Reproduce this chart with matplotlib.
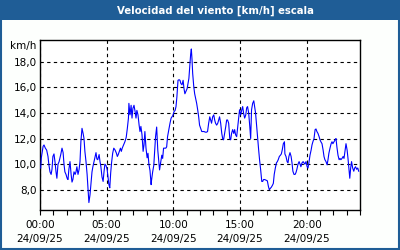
import matplotlib
matplotlib.use("Agg")
import matplotlib.pyplot as plt
from matplotlib.patches import Rectangle
from matplotlib.ticker import FixedLocator, MultipleLocator

# minutes after 00:00 on 24/09/25, wind speed in km/h
minutes = [
    3, 6, 14, 18, 24, 30, 36, 40, 45, 50, 54, 58, 63, 68, 72, 76, 81, 86, 90, 94,
    99, 104, 108, 112, 117, 122, 126, 130, 135, 140, 144, 148, 153, 158, 162, 166,
    171, 176, 180, 184, 189, 194, 198, 202, 207, 212, 216, 220, 225, 230, 234, 238,
    243, 248, 252, 256,
    260, 266, 270, 274, 279, 284, 288, 292, 297, 302, 306, 310, 314, 318, 322, 327,
    332, 338, 344, 348, 352, 357, 362, 366, 370, 376, 382, 388, 393, 398, 400, 405,
    410, 414, 418, 423, 428, 432, 436, 441, 446, 450, 454, 459, 464, 468, 472, 477,
    482, 486, 490, 495, 500, 502, 507, 512, 516,
    520, 525, 530, 534, 538, 543, 548, 552, 556, 561, 566, 570, 574, 579, 585, 590,
    594, 598, 603, 608, 612, 616, 621, 626, 630, 634, 639, 644, 648, 652, 657, 662,
    666, 670, 675, 678, 681, 684, 687, 692, 696, 700, 705, 710, 714, 718, 723, 728,
    732, 738, 744, 750, 754, 759, 764,
    768, 772, 777, 782, 786, 790, 795, 800, 804, 808, 813, 818, 822, 826, 831, 836,
    840, 844, 849, 854, 858, 862, 867, 872, 876, 880, 885, 890, 894, 898, 903, 908,
    912, 916, 921, 926, 930, 934, 939, 944, 948, 952, 957, 962, 966, 970, 975, 980,
    984, 988, 993, 998, 1002, 1006, 1011,
    1017, 1023, 1028, 1032, 1036, 1041, 1046, 1050, 1054, 1059, 1064, 1068, 1072,
    1077, 1082, 1086, 1090, 1095, 1100, 1102, 1107, 1112, 1116, 1120, 1125, 1130,
    1134, 1138, 1143, 1148, 1152, 1156, 1161, 1166, 1170, 1174, 1179, 1184, 1188,
    1192, 1197, 1202, 1206, 1210, 1215, 1220, 1224, 1228, 1233,
    1238, 1242, 1246, 1251, 1256, 1260, 1264, 1269, 1274, 1278, 1282, 1287, 1292,
    1296, 1300, 1305, 1310, 1314, 1318, 1323, 1328, 1332, 1336, 1341, 1346, 1350,
    1354, 1359, 1364, 1368, 1372, 1377, 1382, 1386, 1390, 1394, 1398, 1402, 1407,
    1412, 1416, 1420, 1425, 1430, 1434,
]
speed = [
    9.7, 10.5, 11.4, 11.5, 11.25, 11.1, 10.6, 9.95, 9.4, 9.2, 9.6, 10.6, 10.8, 10.1,
    9.4, 8.9, 10.0, 10.2, 10.5, 10.8, 11.25, 10.9, 10.0, 9.4, 9.2, 8.9, 8.8, 9.6,
    10.2, 9.2, 8.6, 8.8, 9.4, 9.2, 9.4, 9.8, 9.2, 9.6, 10.2, 11.76, 12.8, 12.4, 12.0,
    11.0, 10.2, 9.2, 8.1, 7.0, 7.6, 8.6, 9.4, 9.8, 10.2, 10.6, 10.9, 10.4,
    10.35, 10.75, 10.2, 9.8, 9.0, 8.65, 9.4, 10.0, 9.9, 9.6, 9.0, 8.4, 8.15, 9.3,
    10.1, 10.85, 11.25, 11.1, 10.85, 10.6, 10.75, 11.0, 11.25, 11.0, 11.25, 11.5,
    11.75, 12.1, 12.8, 13.6, 14.75, 13.85, 14.6, 13.6, 14.35, 14.6, 14.1, 13.6, 14.2,
    13.85, 13.05, 12.55, 12.95, 12.3, 11.0, 11.5, 12.55, 11.25, 10.5, 10.85, 10.0,
    9.5, 8.4, 8.75, 9.4, 9.9, 11.0,
    12.15, 12.9, 11.1, 10.35, 9.55, 10.1, 10.7, 10.45, 11.25, 11.25, 11.25, 11.35,
    12.15, 12.65, 13.2, 13.6, 13.7, 13.8, 14.1, 14.2, 14.5, 15.25, 16.55, 16.6, 16.55,
    16.3, 16.2, 16.55, 15.9, 15.5, 15.7, 15.9, 16.3, 16.7, 17.85, 18.6, 19.0, 18.2,
    17.1, 16.05, 15.5, 15.15, 14.75, 14.2, 13.7, 13.05, 12.8, 12.55, 12.55, 12.55,
    12.5, 12.5, 12.55, 13.2, 13.7,
    13.45, 13.2, 13.7, 13.85, 13.45, 13.2, 13.05, 13.2, 13.45, 13.7, 13.2, 12.4, 12.0,
    11.9, 12.4, 12.95, 13.45, 13.45, 13.2, 12.0, 11.9, 12.4, 12.7, 12.4, 12.7, 12.3,
    12.15, 12.95, 13.6, 14.25, 13.85, 14.25, 14.5, 14.0, 13.6, 13.85, 14.4, 14.5, 14.0,
    12.95, 12.0, 14.25, 14.75, 14.95, 14.5, 14.0, 12.95, 11.9, 11.1, 10.35, 9.55, 8.65,
    8.65, 8.8, 8.8,
    8.75, 8.7, 8.25, 8.0, 8.1, 8.2, 8.35, 8.5, 9.2, 9.7, 10.1, 10.2, 10.35, 10.6, 10.7,
    10.8, 11.1, 11.6, 11.75, 10.8, 10.6, 10.2, 10.1, 10.6, 10.9, 10.6, 10.1, 9.45, 9.2,
    9.2, 9.35, 9.6, 10.0, 10.2, 10.0, 9.8, 10.1, 10.2, 10.1, 10.0, 10.2, 9.8, 9.7, 10.1,
    10.7, 11.1, 11.5, 11.75, 12.0,
    12.7, 12.75, 12.55, 12.4, 12.15, 11.9, 11.75, 11.6, 11.1, 10.6, 10.35, 10.2, 9.95,
    10.35, 10.85, 11.25, 11.6, 11.75, 11.6, 11.75, 11.9, 12.0, 11.35, 10.7, 10.35,
    10.45, 10.35, 10.45, 10.6, 10.45, 10.95, 11.6, 11.1, 10.45, 9.7, 8.9, 9.7, 10.2,
    9.7, 9.45, 9.7, 9.8, 9.6, 9.7, 9.45,
]

x_ticks = [0, 300, 600, 900, 1200]
x_labels = ["00:00\n24/09/25", "05:00\n24/09/25", "10:00\n24/09/25",
            "15:00\n24/09/25", "20:00\n24/09/25"]
y_ticks = [8, 10, 12, 14, 16, 18]
y_labels = ["8,0", "10,0", "12,0", "14,0", "16,0", "18,0"]

title = "Velocidad del viento [km/h] escala"
unit = "km/h"

BLUE = "#1f5d96"

plt.rcParams["font.family"] = ["DejaVu Sans"]

fig = plt.figure(figsize=(4, 2.5), dpi=100, facecolor="#fdfffd")

# title bar and outer frame
fig.patches.append(Rectangle((0, 0.92), 1, 0.08, transform=fig.transFigure,
                             facecolor=BLUE, edgecolor="none", zorder=0))
fig.patches.append(Rectangle((0.0025, 0.004), 0.995, 0.992, transform=fig.transFigure,
                             facecolor="none", edgecolor=BLUE, linewidth=1.5, zorder=5))
fig.text(0.5375, 0.958, title, color="white", fontsize=7.3, fontweight="bold",
         ha="center", va="center")

ax = fig.add_axes([0.1, 0.159, 0.8, 0.681])
ax.set_facecolor("white")
ax.plot(minutes, speed, color="#0000ff", linewidth=0.8, zorder=3)

ax.set_xlim(0, 1440)
ax.set_ylim(6.4, 19.7)

ax.xaxis.set_major_locator(FixedLocator(x_ticks))
ax.xaxis.set_minor_locator(MultipleLocator(60))
ax.set_xticklabels(x_labels, fontsize=7.5, linespacing=1.5)
ax.set_yticks(y_ticks)
ax.set_yticklabels(y_labels, fontsize=7.5)

ax.tick_params(axis="x", which="both", direction="out", length=3.5, width=0.8,
               color="black", pad=3.5)
ax.tick_params(axis="y", length=0, pad=2)

ax.grid(True, which="major", color="black", linestyle=(0, (3, 3)), linewidth=0.8)
for spine in ax.spines.values():
    spine.set_color("black")
    spine.set_linewidth(1.0)

fig.text(0.092, 0.818, unit, fontsize=7.5, ha="right", va="center")

fig.savefig("out.png", dpi=100, facecolor=fig.get_facecolor())
